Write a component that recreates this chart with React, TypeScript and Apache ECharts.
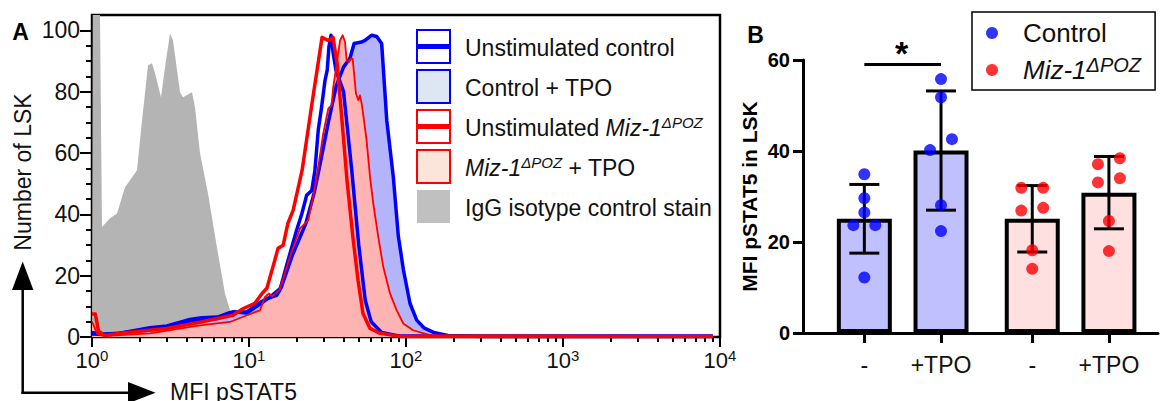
import { useEffect, useRef } from 'react';
import * as echarts from 'echarts';

const FONT = '"Liberation Sans", Arial, Helvetica, sans-serif';

// ---------------- Panel A: histograms (x = MFI pSTAT5, y = Number of LSK) ----------------
const IGG_X = [1.0, 1.015, 1.076, 1.108, 1.158, 1.302, 1.443, 1.623, 1.746, 1.935, 2.083, 2.274, 2.411, 2.519, 2.751, 2.917, 3.14, 3.28, 3.636, 3.8, 4.335, 4.53, 4.875, 5.48, 6.25, 7.03, 7.57, 8.27, 9.4];
const IGG_Y = [0, 140, 140, 140, 35.9, 38.7, 40.3, 48.8, 51.1, 54.4, 70.7, 88.6, 89.3, 86.0, 78.2, 88.0, 99.0, 96.8, 79.8, 78.2, 79.8, 74.9, 59.9, 46.8, 29.2, 14.2, 8.7, 2.2, 0];

const CTRL_TPO_X = [1.0, 1.2, 1.5, 2.3, 3.0, 4.9, 6.3, 7.9, 9.7, 11.2, 13.6, 16, 19, 23, 26, 28, 32, 36, 40, 44, 46.7, 52.2, 54.8, 60.5, 65.1, 70.0, 75.4, 83.0, 89.3, 96.2, 106, 117, 130, 150, 185, 300, 9000];
const CTRL_TPO_Y = [1.0, 0.8, 1.2, 2.5, 3.3, 5.5, 6.0, 8.2, 7.8, 10.0, 13.0, 16, 27, 37, 47, 55, 70, 82, 88, 91, 95.7, 96.2, 96.7, 98.4, 98.0, 95.7, 70.7, 52.2, 33, 22, 11, 5.5, 3, 1.5, 0.5, 0.2, 0.2];

const CTRL_UNSTIM_X = [1.0, 1.2, 1.5, 2.34, 3.0, 4.1, 5.0, 6.3, 7.6, 9.7, 11.5, 13.0, 15.0, 15.7, 17.5, 20.1, 21.7, 23.3, 25.1, 26.3, 27.6, 29.0, 30.5, 31.5, 32.3, 33.3, 34.4, 35.8, 40, 45, 50, 55, 60, 70, 90, 9000];
const CTRL_UNSTIM_Y = [1.5, 1.0, 1.2, 3.0, 3.6, 5.6, 6.3, 6.5, 8.0, 8.2, 11.0, 12.5, 13.6, 15.2, 24, 34.8, 40.2, 46.2, 47.8, 54.4, 67.4, 75.0, 83.7, 87.0, 94.6, 98.4, 92.4, 87.0, 80, 55, 30, 12, 5, 1.5, 0.3, 0.3];

const MIZ_TPO_X = [1.0, 1.08, 1.2, 2.34, 4.87, 7.57, 9.7, 11.75, 12.6, 13.4, 14.0, 14.8, 15.7, 18.2, 21.1, 23.8, 25.6, 27.0, 29.7, 32.0, 33.6, 34.4, 36.2, 38.0, 39.5, 40.9, 41.9, 43.5, 44.4, 45.7, 46.7, 48.0, 49.7, 50.9, 52.2, 54.0, 56.1, 59.0, 61.9, 66.6, 71.7, 79.1, 87.3, 96.1, 111, 142, 9000];
const MIZ_TPO_Y = [5, 1, 0.3, 1.2, 3.8, 4.9, 7.1, 8.7, 13.0, 14.2, 13.3, 14.2, 15.5, 26.1, 35.4, 38.0, 45.6, 52.2, 66.3, 74.5, 75.5, 81.5, 89.1, 96.7, 98.4, 96.2, 90.2, 89.7, 90.8, 90.8, 85.9, 79.4, 77.2, 78.8, 76.1, 70.7, 64.1, 52.2, 43.5, 32.6, 22.8, 14.2, 8.7, 4.4, 2.2, 0.6, 0.3];

const MIZ_UNSTIM_X = [1.0, 1.05, 1.10, 1.2, 1.51, 3.0, 4.87, 7.91, 9.2, 10.9, 12.1, 13.0, 14.6, 15.3, 16.5, 17.7, 19.1, 21.8, 25.2, 29.2, 31.9, 34.3, 36.4, 39.1, 42.1, 45.9, 49.5, 53.2, 59.0, 68.3, 91.5, 9000];
const MIZ_UNSTIM_Y = [7.5, 7.5, 2, 0.5, 1.2, 2.8, 4.8, 7.1, 9.3, 11.0, 14.2, 15.9, 25.0, 28.9, 29.9, 37.1, 41.3, 54.4, 76.2, 97.7, 96.7, 97.7, 89.2, 70.7, 51.1, 32.5, 18.5, 7.7, 2.8, 1.2, 0.2, 0.2];

const X_MAJOR_A = [1, 10, 100, 1000, 10000];
const Y_MAJOR_A = [0, 20, 40, 60, 80, 100];

const LEGEND_A = [
  { rich: '{n|Unstimulated control}', fill: '#ffffff', stroke: '#0000ff', bar: '#0000ff' },
  { rich: '{n|Control + TPO}', fill: '#dde7f4', stroke: '#0000ff', bar: '' },
  { rich: '{n|Unstimulated }{i|Miz-1}{s|ΔPOZ}', fill: '#ffffff', stroke: '#ff0000', bar: '#ff0000' },
  { rich: '{i|Miz-1}{s|ΔPOZ}{n| + TPO}', fill: '#fbe4d9', stroke: '#ff0000', bar: '' },
  { rich: '{n|IgG isotype control stain}', fill: '#c0c0c0', stroke: '', bar: '' },
];

// ---------------- Panel B: bar chart ----------------
const GROUPS = ['-', '+TPO', '-', '+TPO'];
const MEANS = [25.1, 40.1, 25.1, 30.85];
const SDS = [7.55, 13.1, 7.3, 7.95];
const CTRL_UNSTIM_PTS = [34.9, 29.6, 26.5, 23.7, 23.7, 12.2];
const CTRL_TPO_PTS = [55.8, 51.8, 42.6, 40.2, 28.1, 22.4];
const MIZ_UNSTIM_PTS = [31.9, 31.9, 26.9, 27.5, 18.2, 14.1];
const MIZ_TPO_PTS = [37.1, 38.4, 33.1, 34.0, 24.6, 18.0];
const SIG_LEVEL = 59;
const Y_TICKS_B = [0, 20, 40, 60];

// layout helpers (positions / styles, not data)
const GROUP_POS = [0, 1, 2.19, 3.19];
const JITTER = [
  [0, 0, 0, -1, 1, 0],
  [0, 0, 1, -1, 0, 0],
  [-1, 1, -1, 1, 0, 0],
  [-1, 1, -1, 1, 0, 0],
];
const JIT = 0.143;
const BAR_FILL = ['#c0c0ff', '#c0c0ff', '#ffe0e0', '#ffe0e0'];

const zip = (xs: number[], ys: number[]) => xs.map((x, i) => [x, ys[i]]);

const X_MINOR_A: number[] = [];
[1, 10, 100, 1000].forEach((d) => {
  for (let k = 2; k <= 9; k++) X_MINOR_A.push(k * d);
});
const Y_MINOR_A: number[] = [];
for (let v = 5; v < 100; v += 5) if (v % 20 !== 0) Y_MINOR_A.push(v);

const pts = (vals: number[], g: number) => vals.map((v, j) => [GROUP_POS[g] + JITTER[g][j] * JIT, v]);

export default function App() {
  const ref = useRef<HTMLDivElement>(null);
  useEffect(() => {
    if (!ref.current) return;
    const chart = echarts.init(ref.current, undefined, { renderer: 'svg' });
    const black = '#000';
    const tickStyle = { color: black, width: 2 };

    const richA = {
      n: { fontSize: 23, lineHeight: 26, fontFamily: FONT, color: '#111' },
      i: { fontSize: 23, lineHeight: 26, fontFamily: FONT, fontStyle: 'italic', color: '#111' },
      s: { fontSize: 15, lineHeight: 15, fontFamily: FONT, fontStyle: 'italic', verticalAlign: 'top', color: '#111' },
    };

    const graphic: any[] = [
      { type: 'text', x: 20.5, y: 32, style: { text: 'A', font: `bold 23px ${FONT}`, fill: black, align: 'center', verticalAlign: 'middle' } },
      { type: 'text', x: 755.5, y: 35, style: { text: 'B', font: `bold 23px ${FONT}`, fill: black, align: 'center', verticalAlign: 'middle' } },
      // axis direction arrows
      { type: 'line', shape: { x1: 22.7, y1: 394, x2: 22.7, y2: 288 }, style: { stroke: black, lineWidth: 2.5 } },
      { type: 'polygon', shape: { points: [[12, 290], [33.4, 290], [22.7, 261.5]] }, style: { fill: black } },
      { type: 'line', shape: { x1: 21.5, y1: 392.7, x2: 130, y2: 392.7 }, style: { stroke: black, lineWidth: 2.5 } },
      { type: 'polygon', shape: { points: [[128, 382], [128, 403.4], [155.5, 392.7]] }, style: { fill: black } },
      { type: 'text', x: 22.5, y: 172, rotation: Math.PI / 2, style: { text: 'Number of LSK', fontSize: 23, fontFamily: FONT, fill: '#111', align: 'center', verticalAlign: 'middle' } },
      { type: 'text', x: 170, y: 380, style: { text: 'MFI pSTAT5', fontSize: 23, fontFamily: FONT, fill: '#111', align: 'left', verticalAlign: 'top' } },
    ];
    LEGEND_A.forEach((it, i) => {
      const y0 = 30 + 40 * i;
      graphic.push({
        type: 'rect',
        shape: { x: 417, y: y0, width: 33, height: 33 },
        style: { fill: it.fill, stroke: it.stroke || null, lineWidth: it.stroke ? 2 : 0 },
      });
      if (it.bar) {
        graphic.push({ type: 'rect', shape: { x: 417, y: y0 + 14, width: 33, height: 5 }, style: { fill: it.bar } });
      }
      graphic.push({
        type: 'text', x: 465, y: y0 + 18,
        style: { text: it.rich, rich: richA, fontSize: 23, fontFamily: FONT, fill: '#111', align: 'left', verticalAlign: 'middle' },
      });
    });

    const lineBase = { type: 'line', xAxisIndex: 0, yAxisIndex: 0, symbol: 'none', showSymbol: false, silent: true, smooth: false };

    const option: any = {
      animation: false,
      textStyle: { fontFamily: FONT },
      grid: [
        { left: 92, top: 15, width: 628, bottom: 64, show: true, borderColor: black, borderWidth: 2.5, backgroundColor: 'transparent' },
        { left: 803, top: 60, right: 2, bottom: 68 },
      ],
      xAxis: [
        {
          type: 'log', logBase: 10, gridIndex: 0, min: 1, max: 10000, position: 'bottom',
          axisLine: { show: false, onZero: false },
          axisTick: { show: true, customValues: X_MAJOR_A, length: 10, lineStyle: tickStyle },
          axisLabel: {
            customValues: X_MAJOR_A, margin: 11, color: '#111',
            formatter: (v: number) => `{b|10}{s|${Math.round(Math.log10(v))}}`,
            rich: {
              b: { fontSize: 22, lineHeight: 24, fontFamily: FONT, color: '#111' },
              s: { fontSize: 15, lineHeight: 16, fontFamily: FONT, color: '#111', verticalAlign: 'top' },
            },
          },
          splitLine: { show: false },
        },
        {
          type: 'log', logBase: 10, gridIndex: 0, min: 1, max: 10000, position: 'bottom',
          axisLine: { show: false, onZero: false },
          axisTick: { show: true, customValues: X_MINOR_A, length: 5, lineStyle: tickStyle },
          axisLabel: { show: false },
          splitLine: { show: false },
        },
        {
          type: 'value', gridIndex: 1, min: -0.8, max: 3.83, position: 'bottom',
          axisLine: { show: true, onZero: false, lineStyle: { color: black, width: 3 } },
          axisTick: { show: true, customValues: GROUP_POS, length: 10, lineStyle: { color: black, width: 3 } },
          axisLabel: {
            customValues: GROUP_POS, fontSize: 23, color: '#111', margin: 20, fontFamily: FONT,
            formatter: (v: number) => {
              let best = 0;
              GROUP_POS.forEach((p, i) => { if (Math.abs(p - v) < Math.abs(GROUP_POS[best] - v)) best = i; });
              return GROUPS[best];
            },
          },
          splitLine: { show: false },
        },
      ],
      yAxis: [
        {
          type: 'value', gridIndex: 0, min: 0, max: 105, position: 'left',
          axisLine: { show: false, onZero: false },
          axisTick: { show: true, customValues: Y_MAJOR_A, length: 12, lineStyle: tickStyle },
          axisLabel: { customValues: Y_MAJOR_A, fontSize: 23, color: '#111', margin: 12, fontFamily: FONT },
          splitLine: { show: false },
        },
        {
          type: 'value', gridIndex: 0, min: 0, max: 105, position: 'left',
          axisLine: { show: false, onZero: false },
          axisTick: { show: true, customValues: Y_MINOR_A, length: 6, lineStyle: tickStyle },
          axisLabel: { show: false },
          splitLine: { show: false },
        },
        {
          type: 'value', gridIndex: 1, min: 0, max: 60, interval: 20, position: 'left',
          axisLine: { show: true, onZero: false, lineStyle: { color: black, width: 3 } },
          axisTick: { show: true, customValues: Y_TICKS_B, length: 10, lineStyle: { color: black, width: 3 } },
          axisLabel: { customValues: Y_TICKS_B, fontSize: 20, fontWeight: 'bold', color: black, margin: 13, fontFamily: FONT },
          splitLine: { show: false },
          name: 'MFI pSTAT5 in LSK', nameLocation: 'middle', nameGap: 43,
          nameTextStyle: { fontSize: 21, fontWeight: 'bold', color: black, fontFamily: FONT },
        },
      ],
      legend: {
        data: ['Control', 'Miz-1ΔPOZ'],
        left: 972, top: 12, orient: 'vertical',
        itemWidth: 12, itemHeight: 12, itemGap: 9,
        padding: [8, 14, 7, 14],
        borderColor: black, borderWidth: 1.5,
        icon: 'circle', selectedMode: false,
        formatter: (n: string) => (n === 'Control' ? '{g|}{n|Control}' : '{g|}{i|Miz-1}{s|ΔPOZ}'),
        textStyle: {
          color: '#111', fontFamily: FONT, fontSize: 26,
          rich: {
            g: { width: 20, lineHeight: 30 },
            n: { fontSize: 26, lineHeight: 30, fontFamily: FONT, color: '#111' },
            i: { fontSize: 26, lineHeight: 30, fontFamily: FONT, fontStyle: 'italic', color: '#111' },
            s: { fontSize: 20, lineHeight: 17, fontFamily: FONT, fontStyle: 'italic', verticalAlign: 'top', color: '#111' },
          },
        },
      },
      graphic,
      series: [
        { ...lineBase, name: 'IgG isotype control stain', data: zip(IGG_X, IGG_Y), lineStyle: { width: 0 }, areaStyle: { color: '#b4b4b4', opacity: 1 } },
        { ...lineBase, name: 'Control + TPO', data: zip(CTRL_TPO_X, CTRL_TPO_Y), lineStyle: { color: '#0000ff', width: 3.5, join: 'round' }, areaStyle: { color: '#b4b4fa', opacity: 1 } },
        { ...lineBase, name: 'Unstimulated control', data: zip(CTRL_UNSTIM_X, CTRL_UNSTIM_Y), lineStyle: { color: '#0000ff', width: 3.5, join: 'round' } },
        { ...lineBase, name: 'Miz-1 + TPO', data: zip(MIZ_TPO_X, MIZ_TPO_Y), lineStyle: { color: '#ff0000', width: 1.8, join: 'round' }, areaStyle: { color: '#ffb4b4', opacity: 1 } },
        { ...lineBase, name: 'Unstimulated Miz-1', data: zip(MIZ_UNSTIM_X, MIZ_UNSTIM_Y), lineStyle: { color: '#ff0000', width: 3.5, join: 'round' } },

        {
          type: 'bar', xAxisIndex: 2, yAxisIndex: 2, barWidth: 55, silent: true,
          data: MEANS.map((m, i) => ({ value: [GROUP_POS[i], m], itemStyle: { color: BAR_FILL[i] } })),
          itemStyle: { borderColor: black, borderWidth: 4 },
          z: 2,
        },
        {
          type: 'custom', xAxisIndex: 2, yAxisIndex: 2, silent: true, z: 3,
          data: MEANS.map((m, i) => [GROUP_POS[i], m, SDS[i]]),
          renderItem: (_p: any, api: any) => {
            const x = api.value(0), m = api.value(1), s = api.value(2);
            const top = api.coord([x, m + s]);
            const bot = api.coord([x, m - s]);
            const hw = 15;
            const style = { stroke: black, lineWidth: 3 };
            return {
              type: 'group',
              children: [
                { type: 'line', shape: { x1: top[0], y1: top[1], x2: bot[0], y2: bot[1] }, style },
                { type: 'line', shape: { x1: top[0] - hw, y1: top[1], x2: top[0] + hw, y2: top[1] }, style },
                { type: 'line', shape: { x1: bot[0] - hw, y1: bot[1], x2: bot[0] + hw, y2: bot[1] }, style },
              ],
            };
          },
        },
        {
          type: 'scatter', name: 'Control', xAxisIndex: 2, yAxisIndex: 2, symbol: 'circle', symbolSize: 12, z: 5,
          itemStyle: { color: '#0000ff' },
          data: [...pts(CTRL_UNSTIM_PTS, 0), ...pts(CTRL_TPO_PTS, 1)],
        },
        {
          type: 'scatter', name: 'Miz-1ΔPOZ', xAxisIndex: 2, yAxisIndex: 2, symbol: 'circle', symbolSize: 12, z: 5,
          itemStyle: { color: '#ff0000' },
          data: [...pts(MIZ_UNSTIM_PTS, 2), ...pts(MIZ_TPO_PTS, 3)],
        },
        {
          type: 'custom', xAxisIndex: 2, yAxisIndex: 2, silent: true, z: 4,
          data: [[GROUP_POS[0], GROUP_POS[1], SIG_LEVEL]],
          renderItem: (_p: any, api: any) => {
            const a = api.coord([api.value(0), api.value(2)]);
            const b = api.coord([api.value(1), api.value(2)]);
            return {
              type: 'group',
              children: [
                { type: 'line', shape: { x1: a[0], y1: a[1], x2: b[0], y2: b[1] }, style: { stroke: black, lineWidth: 3 } },
                { type: 'text', x: (a[0] + b[0]) / 2 - 1, y: a[1] - 12, style: { text: '*', fontSize: 34, fontWeight: 'bold', fontFamily: FONT, fill: black, align: 'center', verticalAlign: 'middle' } },
              ],
            };
          },
        },
      ],
    };
    chart.setOption(option);
    return () => chart.dispose();
  }, []);
  return <div ref={ref} style={{ position: 'absolute', left: 0, top: 0, width: 1160, height: 401 }} />;
}
